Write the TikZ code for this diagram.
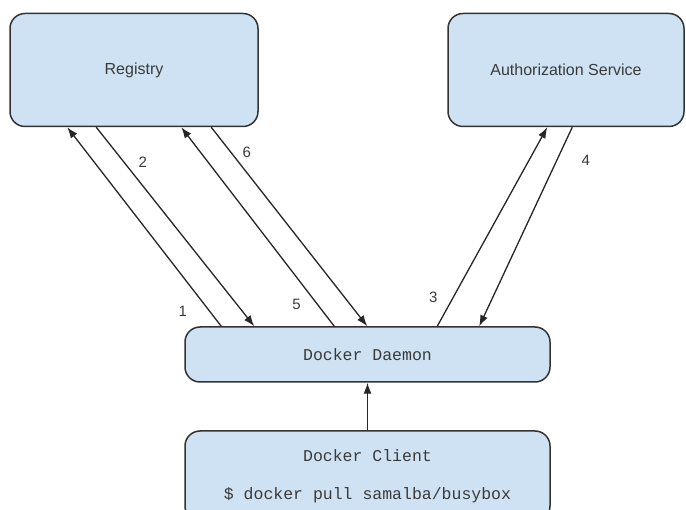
\documentclass[tikz,border=0pt]{standalone}
\usepackage{fontspec}
\setmainfont{Liberation Sans}
\setmonofont{Liberation Mono}
\usetikzlibrary{arrows.meta}

\definecolor{boxblue}{HTML}{CFE2F3}
\definecolor{boxline}{HTML}{333333}
\definecolor{txtgray}{HTML}{3A3A3A}

\begin{document}
\begin{tikzpicture}[x=1pt, y=-1pt]

\tikzset{box/.style = {draw=boxline, fill=boxblue, line width=1.5pt, rounded corners=15pt, text=txtgray}}
\tikzset{edge/.style = {-{Latex[length=11pt, width=8pt]}, line width=1.3pt, draw=black!85}}
\tikzset{num/.style = {text=txtgray, font=\fontsize{15}{18}\selectfont}}

\clip (0,0) rectangle (686,510);

% boxes
\node[box, minimum width=248pt, minimum height=113pt, font=\fontsize{16}{19}\selectfont] (registry) at (134,70) {Registry};
\node[box, minimum width=236pt, minimum height=113pt, font=\fontsize{16}{19}\selectfont] (auth) at (566,70) {Authorization Service};
\node[box, minimum width=365pt, minimum height=55pt, font=\ttfamily\fontsize{16.5}{19}\selectfont] (daemon) at (367.5,354.5) {Docker Daemon};
\node[box, minimum width=365pt, minimum height=90pt, align=center, font=\ttfamily\fontsize{16.5}{38}\selectfont] (client) at (367.5,476) {Docker Client\\\$ docker pull samalba/busybox};

% edges
\draw[edge] ([xshift=37pt]daemon.north west) -- ([xshift=58pt]registry.south west) node[num, pos=0.075, xshift=-27pt] {1};
\draw[edge] ([xshift=87pt]registry.south west) -- ([xshift=70pt]daemon.north west) node[num, pos=0.175, xshift=19pt] {2};
\draw[edge] ([xshift=253pt]daemon.north west) -- ([xshift=100pt]auth.south west) node[num, pos=0.145, xshift=-20pt] {3};
\draw[edge] ([xshift=125pt]auth.south west) -- ([xshift=295pt]daemon.north west) node[num, pos=0.165, xshift=29pt] {4};
\draw[edge] ([xshift=150pt]daemon.north west) -- ([xshift=172pt]registry.south west) node[num, pos=0.11, xshift=-21pt] {5};
\draw[edge] ([xshift=202pt]registry.south west) -- ([xshift=183pt]daemon.north west) node[num, pos=0.125, xshift=16pt] {6};
\draw[edge] (client) -- (daemon);

\end{tikzpicture}
\end{document}
